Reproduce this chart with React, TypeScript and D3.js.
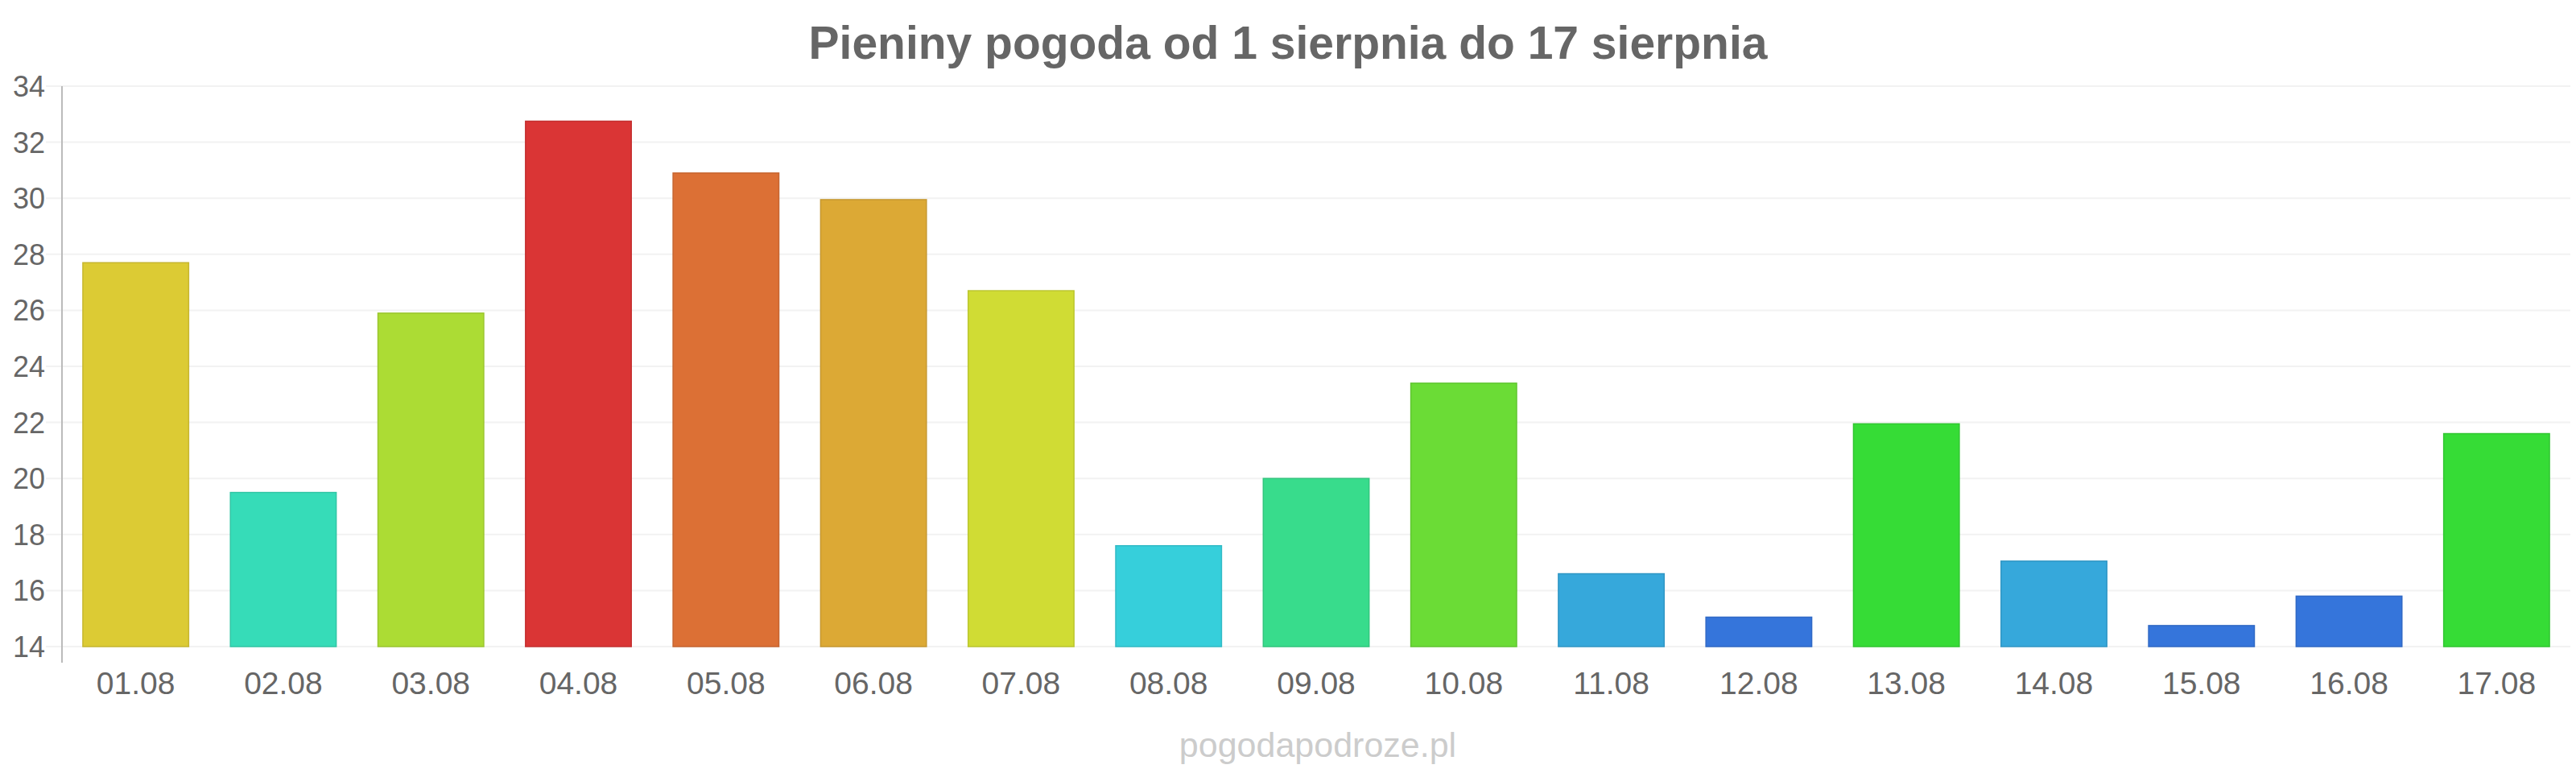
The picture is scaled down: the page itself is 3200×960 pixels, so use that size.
import * as d3 from "d3";

const WIDTH = 3200;
const HEIGHT = 960;

const days = ["01.08", "02.08", "03.08", "04.08", "05.08", "06.08", "07.08", "08.08", "09.08", "10.08", "11.08", "12.08", "13.08", "14.08", "15.08", "16.08", "17.08"];
const temps = [27.7, 19.5, 25.9, 32.75, 30.9, 29.95, 26.7, 17.6, 20.0, 23.4, 16.6, 15.05, 21.95, 17.05, 14.75, 15.8, 21.6];
const colors = ["#dccb34", "#36dcb8", "#acdc34", "#da3535", "#dc7035", "#dca935", "#d0dc34", "#36cfdb", "#38dc8c", "#6bdc36", "#36a8db", "#3575db", "#36dc36", "#36a8db", "#3575db", "#3575db", "#36dc36"];
const yTicks = [14, 16, 18, 20, 22, 24, 26, 28, 30, 32, 34];

const title = "Pieniny pogoda od 1 sierpnia do 17 sierpnia";
const watermark = "pogodapodroze.pl";

const FONT = "'Liberation Sans', Arial, sans-serif";

export default function App() {
    const left = 77;
    const right = 3193;
    const top = 107;
    const bottom = 803;

    const x = d3.scaleBand<string>().domain(days).range([left, right]).paddingInner(0.283).paddingOuter(0.1415);
    const y = d3.scaleLinear().domain([14, 34]).range([bottom, top]);

    return (
        <svg width={WIDTH} height={HEIGHT} style={{ display: "block", position: "absolute", left: 0, top: 0 }} fontFamily={FONT}>
            <rect width={WIDTH} height={HEIGHT} fill="#ffffff" />
            <text x={1600} y={73} textAnchor="middle" fontSize={57} fontWeight="bold" fill="#666666">
                {title}
            </text>

            {/* grid + y labels */}
            {yTicks.map((t) => (
                <g key={t}>
                    <line x1={57} x2={right} y1={y(t)} y2={y(t)} stroke="#f2f2f2" strokeWidth={2} />
                    <text x={56} y={y(t) + 13} textAnchor="end" fontSize={36} fill="#666666">
                        {t}
                    </text>
                </g>
            ))}

            <line x1={left} x2={left} y1={top} y2={823} stroke="#bbbbbb" strokeWidth={2} />

            {/* bars */}
            {days.map((d, i) => {
                const c = colors[i];
                return (
                    <rect
                        key={d}
                        x={x(d)}
                        y={y(temps[i])}
                        width={x.bandwidth()}
                        height={bottom - y(temps[i])}
                        fill={c}
                        stroke={d3.color(c)!.darker(0.3).formatHex()}
                        strokeWidth={1.5}
                    />
                );
            })}

            {/* x labels */}
            {days.map((d) => (
                <text key={d} x={(x(d) ?? 0) + x.bandwidth() / 2} y={862} textAnchor="middle" fontSize={39} fill="#666666">
                    {d}
                </text>
            ))}

            <text x={1637} y={940} textAnchor="middle" fontSize={43} fill="#cccccc">
                {watermark}
            </text>
        </svg>
    );
}
